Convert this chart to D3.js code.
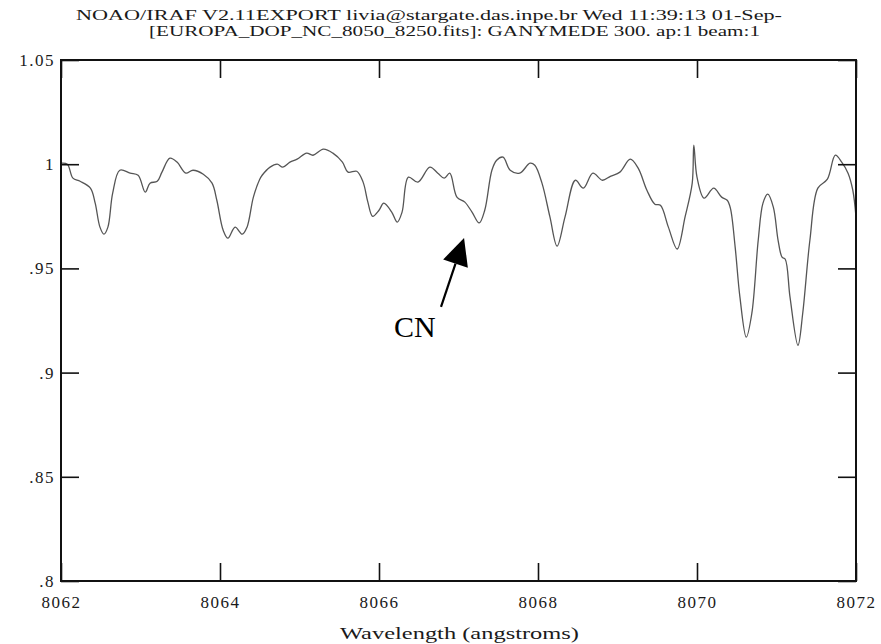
<!DOCTYPE html>
<html>
<head>
<meta charset="utf-8">
<script src="https://cdn.jsdelivr.net/npm/d3@7"></script>
<style>
  html, body { margin: 0; padding: 0; background: #fff; }
  svg { display: block; }
  .iraf { font-family: "Liberation Serif", "DejaVu Serif", serif; fill: #1a1a1a; }
</style>
</head>
<body>
<script>
// ---- data ----
const titleLines = [
  "NOAO/IRAF V2.11EXPORT livia@stargate.das.inpe.br Wed 11:39:13 01-Sep-",
  "[EUROPA_DOP_NC_8050_8250.fits]: GANYMEDE 300. ap:1 beam:1"
];
const xLabel = "Wavelength (angstroms)";
const xTicks = [8062, 8064, 8066, 8068, 8070, 8072];
const yTicks = [0.8, 0.85, 0.9, 0.95, 1, 1.05];
const yTickLabels = [".8", ".85", ".9", ".95", "1", "1.05"];

const wavelength = [
  8062.00, 8062.08, 8062.15, 8062.24, 8062.37, 8062.43, 8062.49, 8062.54, 8062.59, 8062.65,
  8062.74, 8062.87, 8062.97, 8063.06, 8063.12, 8063.21, 8063.27, 8063.37, 8063.46, 8063.57,
  8063.66, 8063.79, 8063.90, 8063.96, 8064.04, 8064.10, 8064.19, 8064.28, 8064.34, 8064.42,
  8064.50, 8064.53, 8064.63, 8064.72, 8064.79, 8064.88, 8064.97, 8065.09, 8065.17, 8065.30,
  8065.42, 8065.54, 8065.61, 8065.72, 8065.80, 8065.86, 8065.92, 8066.00, 8066.06, 8066.16,
  8066.23, 8066.29, 8066.37, 8066.49, 8066.64, 8066.74, 8066.82, 8066.89, 8066.98, 8067.08,
  8067.17, 8067.26, 8067.33, 8067.42, 8067.48, 8067.56, 8067.65, 8067.77, 8067.90, 8067.96,
  8068.05, 8068.15, 8068.24, 8068.34, 8068.47, 8068.57, 8068.69, 8068.81, 8068.91, 8069.03,
  8069.16, 8069.26, 8069.37, 8069.47, 8069.54, 8069.64, 8069.75, 8069.85, 8069.94, 8069.96,
  8070.00, 8070.09, 8070.21, 8070.31, 8070.38, 8070.42, 8070.48, 8070.54, 8070.62, 8070.69,
  8070.77, 8070.83, 8070.89, 8070.96, 8071.02, 8071.07, 8071.11, 8071.17, 8071.27, 8071.33,
  8071.42, 8071.52, 8071.64, 8071.74, 8071.82, 8071.90, 8071.96, 8072.00
];
const flux = [
  1.0005, 1.0000, 0.9933, 0.9918, 0.9885, 0.9813, 0.9698, 0.9664, 0.9698, 0.9861,
  0.9971, 0.9957, 0.9947, 0.9866, 0.9909, 0.9918, 0.9962, 1.0029, 1.0010, 0.9957,
  0.9971, 0.9952, 0.9909, 0.9827, 0.9683, 0.9645, 0.9698, 0.9664, 0.9698, 0.9842,
  0.9928, 0.9947, 0.9986, 1.0000, 0.9986, 1.0010, 1.0024, 1.0053, 1.0043, 1.0072,
  1.0053, 1.0010, 0.9962, 0.9966, 0.9914, 0.9818, 0.9750, 0.9779, 0.9813, 0.9770,
  0.9722, 0.9770, 0.9938, 0.9914, 0.9986, 0.9957, 0.9933, 0.9957, 0.9842, 0.9818,
  0.9770, 0.9718, 0.9779, 0.9971, 1.0019, 1.0034, 0.9971, 0.9957, 1.0005, 0.9995,
  0.9909, 0.9747, 0.9607, 0.9747, 0.9923, 0.9885, 0.9957, 0.9923, 0.9942, 0.9962,
  1.0024, 0.9981, 0.9875, 0.9808, 0.9803, 0.9698, 0.9593, 0.9747, 0.9909, 1.0091,
  0.9938, 0.9837, 0.9885, 0.9842, 0.9827, 0.9789, 0.9602, 0.9362, 0.9170, 0.9285,
  0.9635, 0.9813, 0.9856, 0.9794, 0.9635, 0.9554, 0.9544, 0.9362, 0.9131, 0.9285,
  0.9635, 0.9885, 0.9928, 1.0043, 1.0010, 0.9957, 0.9875, 0.9747
];

// annotation (data coordinates)
const annotText = "CN";
const annotTip = [8067.07, 0.9646];
const annotTail = [8066.78, 0.9315];
const annotTextPos = [8066.19, 0.9171];

// ---- layout ----
const W = 881, H = 644;
const mLeft = 61, mRight = 856, mTop = 60, mBottom = 581;

const svg = d3.select("body").append("svg").attr("width", W).attr("height", H);

const x = d3.scaleLinear().domain([8062, 8072]).range([mLeft, mRight]);
const y = d3.scaleLinear().domain([0.8, 1.05]).range([mBottom, mTop]);

// title lines
svg.append("text").attr("class", "iraf")
  .attr("x", 76).attr("y", 20).attr("font-size", 15)
  .attr("textLength", 706).attr("lengthAdjust", "spacingAndGlyphs")
  .text(titleLines[0]);
svg.append("text").attr("class", "iraf")
  .attr("x", 149).attr("y", 36).attr("font-size", 15)
  .attr("textLength", 611).attr("lengthAdjust", "spacingAndGlyphs")
  .text(titleLines[1]);

// data line
const line = d3.line()
  .x((d, i) => x(wavelength[i]))
  .y((d, i) => y(flux[i]))
  .curve(d3.curveCatmullRom.alpha(0.5));
svg.append("path")
  .attr("d", line(flux))
  .attr("fill", "none")
  .attr("stroke", "#555")
  .attr("stroke-width", 1.3);

// axes with inward ticks
const tickLen = 18;
const axB = d3.axisBottom(x).tickValues(xTicks).tickSize(-tickLen).tickFormat(d3.format("d")).tickPadding(15);
const axT = d3.axisTop(x).tickValues(xTicks).tickSize(-tickLen).tickFormat("");
const axL = d3.axisLeft(y).tickValues(yTicks).tickSize(-tickLen)
  .tickFormat((d, i) => yTickLabels[i]).tickPadding(6);
const axR = d3.axisRight(y).tickValues(yTicks).tickSize(-tickLen).tickFormat("");

function styleAxis(g) {
  g.select(".domain").remove();
  g.selectAll(".tick line").attr("stroke", "#111").attr("stroke-width", 1.6);
  g.selectAll(".tick text").attr("class", "iraf").attr("font-size", 17)
    .attr("letter-spacing", "1.5px").attr("fill", "#1a1a1a");
}
svg.append("g").attr("transform", `translate(0,${mBottom})`).call(axB).call(styleAxis);
svg.append("g").attr("transform", `translate(0,${mTop})`).call(axT).call(styleAxis);
svg.append("g").attr("transform", `translate(${mLeft},0)`).call(axL).call(styleAxis);
svg.append("g").attr("transform", `translate(${mRight},0)`).call(axR).call(styleAxis);

// frame
svg.append("rect")
  .attr("x", mLeft).attr("y", mTop)
  .attr("width", mRight - mLeft).attr("height", mBottom - mTop)
  .attr("fill", "none").attr("stroke", "#111").attr("stroke-width", 2);

// x axis title
svg.append("text").attr("class", "iraf")
  .attr("x", 340).attr("y", 639).attr("font-size", 17)
  .attr("textLength", 239).attr("lengthAdjust", "spacingAndGlyphs")
  .text(xLabel);

// annotation arrow
const tip = [x(annotTip[0]), y(annotTip[1])];
const tail = [x(annotTail[0]), y(annotTail[1])];
const dx = tip[0] - tail[0], dy = tip[1] - tail[1];
const L = Math.hypot(dx, dy), ux = dx / L, uy = dy / L;
const headLen = 27, headHalf = 13;
const bx = tip[0] - ux * headLen, by = tip[1] - uy * headLen;
svg.append("line")
  .attr("x1", tail[0]).attr("y1", tail[1])
  .attr("x2", bx).attr("y2", by)
  .attr("stroke", "#000").attr("stroke-width", 2.2);
svg.append("polygon")
  .attr("points", [
    tip,
    [bx - uy * headHalf, by + ux * headHalf],
    [bx + uy * headHalf, by - ux * headHalf]
  ].map(p => p.join(",")).join(" "))
  .attr("fill", "#000");

svg.append("text")
  .attr("x", x(annotTextPos[0])).attr("y", y(annotTextPos[1]))
  .attr("font-family", "'Liberation Serif', 'Times New Roman', serif")
  .attr("font-size", 30).attr("fill", "#000")
  .text(annotText);
</script>
</body>
</html>
